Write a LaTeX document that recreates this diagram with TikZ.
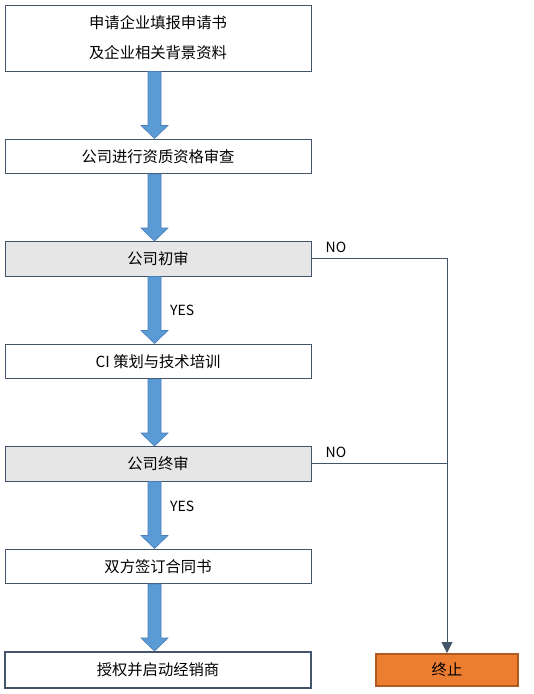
\documentclass[tikz,border=0pt]{standalone}
\usepackage{fontspec}
\setmainfont{Noto Sans CJK SC}
\usetikzlibrary{positioning}
\usetikzlibrary{arrows.meta}
\usetikzlibrary{calc}
\tikzset{>=Latex}

\definecolor{boxline}{HTML}{44546A}
\definecolor{checkgrey}{HTML}{E7E6E6}
\definecolor{arrowblue}{HTML}{5B9BD5}
\definecolor{arrowedge}{HTML}{4A7EBB}
\definecolor{stoporange}{HTML}{ED7D31}
\definecolor{stopedge}{HTML}{AE5A21}

\tikzset{
  stepbox/.style={rectangle, draw=boxline, line width=1pt, minimum width=306pt,
    minimum height=34.5pt, align=center, font=\fontsize{15.3pt}{30pt}\selectfont},
  checkbox/.style={stepbox, fill=checkgrey},
  stopbox/.style={rectangle, draw=stopedge, line width=2pt, fill=stoporange,
    minimum width=142pt, minimum height=32pt, font=\fontsize{15.3pt}{30pt}\selectfont},
  lbl/.style={inner sep=1pt, font=\fontsize{14pt}{16pt}\selectfont},
  flowarrow/.style={fill=arrowblue, draw=arrowedge, line width=0.6pt},
  noline/.style={draw=boxline, line width=1pt}
}

\newcommand{\flowarrow}[2]{%
  \filldraw[flowarrow]
    ($(#1.south)+(-10pt,0)$) -- ($(#2.north)+(-10pt,13pt)$) -- ($(#2.north)+(-17pt,13pt)$)
    -- ($(#2.north)+(-3.5pt,0)$) -- ($(#2.north)+(10pt,13pt)$) -- ($(#2.north)+(3pt,13pt)$)
    -- ($(#1.south)+(3pt,0)$) -- cycle;}

\begin{document}
\begin{tikzpicture}[node distance=67pt and 63pt]
            \useasboundingbox (0,0) rectangle (534pt,-694pt);
            \node[stepbox, minimum height=66pt] (apply) at (158pt,-38pt) {申请企业填报申请书\\及企业相关背景资料};
            \node[stepbox] (qualify) [below=of apply] {公司进行资质资格审查};
            \node[checkbox] (check1) [below=of qualify] {公司初审};
            \node[stepbox] (plan) [below=of check1] {CI 策划与技术培训};
            \node[checkbox] (check2) [below=of plan] {公司终审};
            \node[stepbox] (sign) [below=of check2] {双方签订合同书};
            \node[stepbox, minimum height=36pt, line width=2pt] (auth) [below=of sign] {授权并启动经销商};
            \node[stopbox] (stop) [right=of auth] {终止};
            \flowarrow{apply}{qualify}
            \flowarrow{qualify}{check1}
            \flowarrow{check1}{plan}
            \flowarrow{plan}{check2}
            \flowarrow{check2}{sign}
            \flowarrow{sign}{auth}
            \node[lbl, anchor=west] (yes1) at ($(check1.south)!0.5!(plan.north)+(11pt,0)$) {YES};
            \node[lbl, anchor=west] (yes2) at ($(check2.south)!0.5!(sign.north)+(11pt,9pt)$) {YES};
            \draw[noline, -{Triangle[width=11pt,length=11pt]}] (check1.east) -| (stop.north);
            \draw[noline] (check2.east) -- (check2.east -| stop.north);
            \node[lbl, above right=5pt and 13pt of check1.east] (no1) {NO};
            \node[lbl, above right=5pt and 13pt of check2.east] (no2) {NO};
        \end{tikzpicture}
\end{document}
